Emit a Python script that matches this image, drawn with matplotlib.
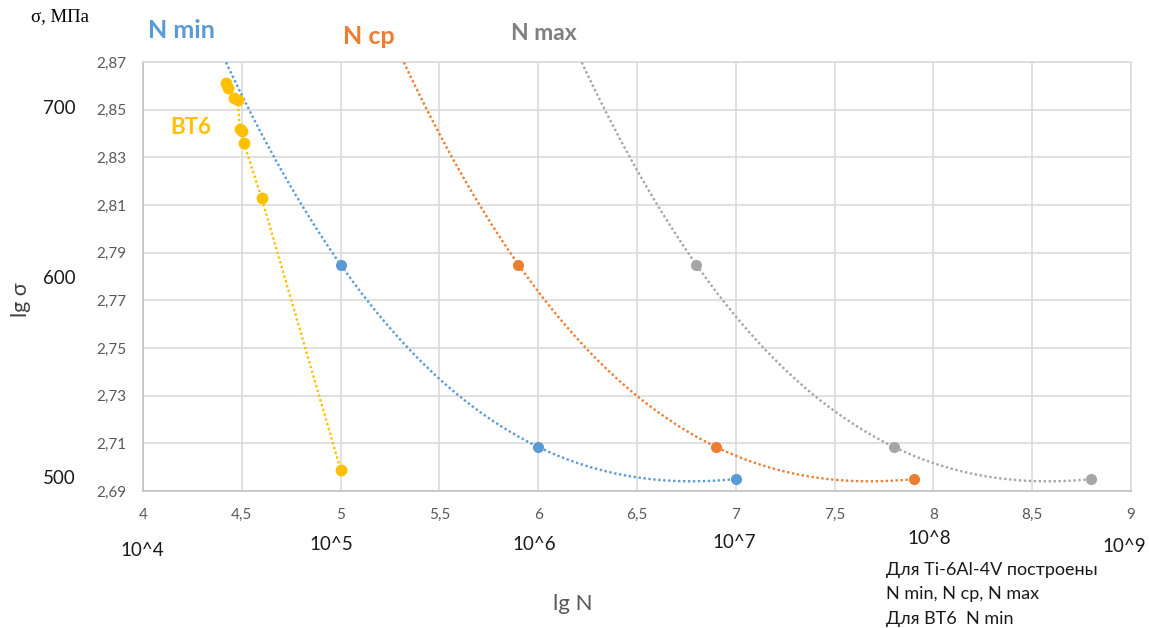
import matplotlib
matplotlib.use('Agg')
import matplotlib.pyplot as plt
import numpy as np

# Ti-6Al-4V: lg N for N min / N cp / N max (first point lies above the axis, 900 MPa)
lgN_min = [4.0, 5.0, 6.0, 7.0]
lgN_cp = [4.9, 5.9, 6.9, 7.9]
lgN_max = [5.8, 6.8, 7.8, 8.8]
lg_sigma = [2.954, 2.785, 2.7085, 2.695]

# BT6 (N min)
bt6_lgN = [4.42, 4.43, 4.46, 4.48, 4.49, 4.50, 4.51, 4.60, 5.0]
bt6_lg_sigma = [2.861, 2.859, 2.855, 2.854, 2.842, 2.841, 2.836, 2.813, 2.699]

y_ticks = [2.69, 2.71, 2.73, 2.75, 2.77, 2.79, 2.81, 2.83, 2.85, 2.87]
x_ticks = [4, 4.5, 5, 5.5, 6, 6.5, 7, 7.5, 8, 8.5, 9]
pow_labels = ['10^4', '10^5', '10^6', '10^7', '10^8', '10^9']
sigma_labels = ['700', '600', '500']

blue, orange, grey, yellow = '#5B9BD5', '#ED7D31', '#A5A5A5', '#FFC000'
fam = ['Lato', 'Open Sans', 'DejaVu Sans']
plt.rcParams['font.family'] = fam

W, H = 1149, 628
fig = plt.figure(figsize=(W / 100, H / 100), dpi=100)
ax = fig.add_axes([143 / W, 1 - 491 / H, (1131 - 143) / W, (491 - 62) / H])

dots = (0, (1, 1.1))

# trendlines (polynomial, order 3) + markers
for xs, col in [(lgN_min, blue), (lgN_cp, orange), (lgN_max, grey)]:
    coef = np.polyfit(xs, lg_sigma, 3)
    xx = np.linspace(min(xs), max(xs), 300)
    ax.plot(xx, np.polyval(coef, xx), color=col, lw=1.7, ls=dots,
            dash_capstyle='butt', zorder=3)
    ax.plot(xs, lg_sigma, 'o', color=col, ms=8, mec='none', zorder=4)

ax.plot(bt6_lgN, bt6_lg_sigma, color=yellow, lw=1.7, ls=dots,
        dash_capstyle='butt', zorder=3)
ax.plot(bt6_lgN, bt6_lg_sigma, 'o', color=yellow, ms=8.5, mec='none', zorder=4)

ax.set_xlim(4, 9)
ax.set_ylim(2.69, 2.87)
ax.set_xticks(x_ticks)
ax.set_yticks(y_ticks)
ax.set_xticklabels([('%g' % v).replace('.', ',') for v in x_ticks])
ax.set_yticklabels([('%.2f' % v).replace('.', ',') for v in y_ticks])
ax.tick_params(length=0, labelsize=11, labelcolor='#595959')
ax.tick_params(axis='x', pad=12)
ax.tick_params(axis='y', pad=12)
ax.grid(True, color='#D9D9D9', lw=1.1)
ax.set_axisbelow(True)
for s in ax.spines.values():
    s.set_color('#D9D9D9')
    s.set_linewidth(1.1)
ax.spines['left'].set_color('#BFBFBF')
ax.spines['bottom'].set_color('#BFBFBF')

def ftext(x, y, s, **kw):
    fig.text(x / W, 1 - y / H, s, **kw)

# series names
ftext(148, 30, 'N min', color=blue, fontsize=18, fontweight='bold', va='center')
ftext(343, 36, 'N cp', color=orange, fontsize=18, fontweight='bold', va='center')
ftext(511, 33, 'N max', color='#808080', fontsize=16.5, fontweight='bold', va='center')
ftext(170, 128, 'ВТ6', color=yellow, fontsize=16, fontweight='bold', va='center')

# axis captions
ftext(60, 17, 'σ, МПа', fontsize=13.5, family=['Liberation Serif', 'DejaVu Serif'],
      ha='center', va='center')
for lab, yy in zip(sigma_labels, [108, 278, 479]):
    ftext(59, yy, lab, fontsize=13.5, ha='center', va='center', color='#1a1a1a')
ftext(21, 300, 'lg σ', fontsize=15.5, rotation=90, ha='center', va='center', color='#404040')
ftext(573, 604, 'lg N', fontsize=16, ha='center', va='center', color='#595959')

for lab, xx, yy in zip(pow_labels, [142, 331, 534, 734, 929, 1124],
                       [550, 545, 545, 542, 539, 547]):
    ftext(xx, yy, lab, fontsize=13.5, ha='center', va='center', color='#1a1a1a')

ftext(886, 570, 'Для Ti-6Al-4V построены', fontsize=13, va='center', color='#1a1a1a')
ftext(886, 594, 'N min, N cp, N max', fontsize=13, va='center', color='#1a1a1a')
ftext(886, 619, 'Для ВТ6  N min', fontsize=13, va='center', color='#1a1a1a')

fig.savefig('out.png', dpi=100)
